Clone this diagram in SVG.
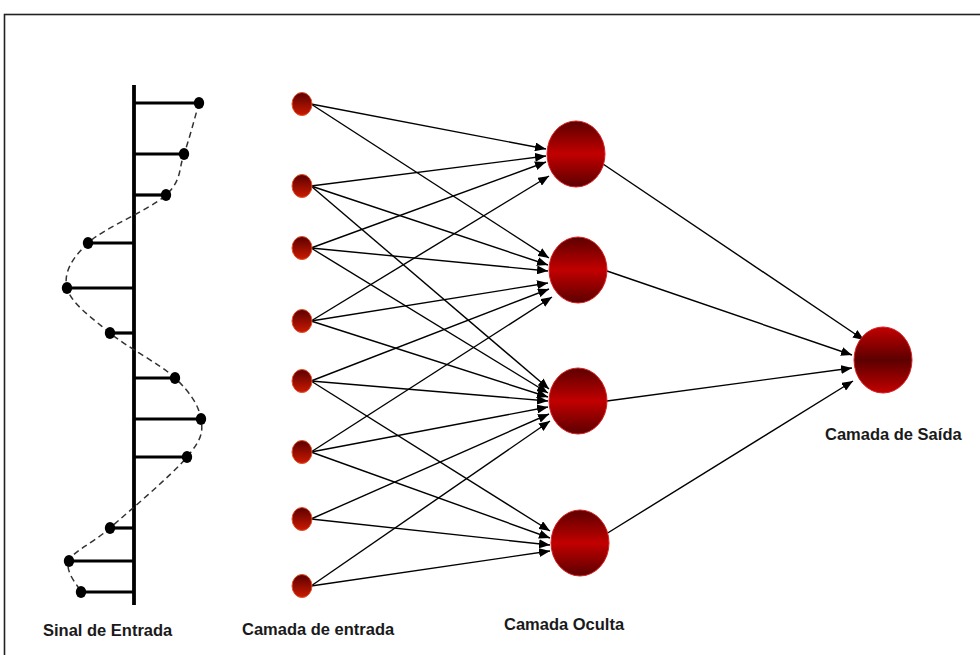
<svg xmlns="http://www.w3.org/2000/svg" width="980" height="655" viewBox="0 0 980 655">
<defs>
<linearGradient id="gIn" x1="0" y1="0" x2="0" y2="1">
<stop offset="0" stop-color="#5a0000"/>
<stop offset="1" stop-color="#cc1a00"/>
</linearGradient>
<linearGradient id="gHid" x1="0" y1="0" x2="0" y2="1">
<stop offset="0" stop-color="#5c0000"/>
<stop offset="0.5" stop-color="#c20000"/>
<stop offset="1" stop-color="#5c0000"/>
</linearGradient>
<linearGradient id="gOut" x1="0" y1="0" x2="0" y2="1">
<stop offset="0" stop-color="#c20000"/>
<stop offset="0.5" stop-color="#5c0000"/>
<stop offset="1" stop-color="#c20000"/>
</linearGradient>
<marker id="arr" viewBox="0 0 11 9" refX="11" refY="4.5" markerWidth="11" markerHeight="9" markerUnits="userSpaceOnUse" orient="auto">
<path d="M0,0 L11,4.5 L0,9 z" fill="#000"/>
</marker>
</defs>
<style>
.in{fill:url(#gIn);stroke:#e2502a;stroke-width:1}
.hid{fill:url(#gHid);stroke:#d82020;stroke-width:1}
.out{fill:url(#gOut);stroke:#d82020;stroke-width:1}
.c line{stroke:#000;stroke-width:1.4;marker-end:url(#arr)}
.stem{stroke:#000;stroke-width:3.2}
.dot{fill:#000}
.lbl{font-family:"Liberation Sans",Arial,sans-serif;font-size:16.5px;font-weight:bold;fill:#1a1a1a}
</style>
<rect x="4.5" y="14.5" width="990" height="660" fill="none" stroke="#222" stroke-width="1.6"/>

<g id="signal">
<line x1="134" y1="85" x2="134" y2="605" stroke="#000" stroke-width="3.8"/>
<line class="stem" x1="134" y1="103" x2="199" y2="103"/>
<line class="stem" x1="134" y1="154" x2="184" y2="154"/>
<line class="stem" x1="134" y1="195" x2="166" y2="195"/>
<line class="stem" x1="134" y1="243" x2="88" y2="243"/>
<line class="stem" x1="134" y1="288" x2="67" y2="288"/>
<line class="stem" x1="134" y1="333" x2="110" y2="333"/>
<line class="stem" x1="134" y1="378" x2="175" y2="378"/>
<line class="stem" x1="134" y1="419" x2="201" y2="419"/>
<line class="stem" x1="134" y1="457" x2="187" y2="457"/>
<line class="stem" x1="134" y1="528" x2="110" y2="528" stroke-width="2.4"/>
<line class="stem" x1="134" y1="561" x2="69" y2="561"/>
<line class="stem" x1="134" y1="592" x2="81" y2="592"/>
<path d="M199,103 C196.5,111.5 189.5,138.7 184,154 C178.5,169.3 182,180.2 166,195 C150,209.8 104.5,227.5 88,243 C71.5,258.5 63.3,273 67,288 C70.7,303 92,318 110,333 C128,348 159.8,363.7 175,378 C190.2,392.3 199,405.8 201,419 C203,432.2 202.2,438.8 187,457 C171.8,475.2 129.7,510.7 110,528 C90.3,545.3 73.8,550.3 69,561 C64.2,571.7 79,586.8 81,592" fill="none" stroke="#333" stroke-width="1.5" stroke-dasharray="6 4"/>
<ellipse class="dot" cx="199" cy="103" rx="5.2" ry="6"/>
<ellipse class="dot" cx="184" cy="154" rx="5.2" ry="6"/>
<ellipse class="dot" cx="166" cy="195" rx="5.2" ry="6"/>
<ellipse class="dot" cx="88" cy="243" rx="5.2" ry="6"/>
<ellipse class="dot" cx="67" cy="288" rx="5.2" ry="6"/>
<ellipse class="dot" cx="110" cy="333" rx="5.2" ry="6"/>
<ellipse class="dot" cx="175" cy="378" rx="5.2" ry="6"/>
<ellipse class="dot" cx="201" cy="419" rx="5.2" ry="6"/>
<ellipse class="dot" cx="187" cy="457" rx="5.2" ry="6"/>
<ellipse class="dot" cx="110" cy="528" rx="5.2" ry="6"/>
<ellipse class="dot" cx="69" cy="561" rx="5.2" ry="6"/>
<ellipse class="dot" cx="81" cy="592" rx="5.2" ry="6"/>
</g>

<g id="connectors" class="c">
<line x1="311" y1="104" x2="546" y2="149"/>
<line x1="311" y1="104" x2="549" y2="258"/>
<line x1="311" y1="186" x2="546" y2="156"/>
<line x1="311" y1="186" x2="548" y2="265"/>
<line x1="311" y1="186" x2="549" y2="389"/>
<line x1="311" y1="248" x2="546" y2="162"/>
<line x1="311" y1="248" x2="548" y2="271"/>
<line x1="311" y1="248" x2="548" y2="393"/>
<line x1="311" y1="321" x2="549" y2="176"/>
<line x1="311" y1="321" x2="548" y2="283"/>
<line x1="311" y1="321" x2="548" y2="397"/>
<line x1="311" y1="381" x2="549" y2="289"/>
<line x1="311" y1="381" x2="548" y2="401"/>
<line x1="311" y1="381" x2="550" y2="531"/>
<line x1="311" y1="452" x2="552" y2="297"/>
<line x1="311" y1="452" x2="548" y2="407"/>
<line x1="311" y1="452" x2="550" y2="538"/>
<line x1="311" y1="519" x2="549" y2="414"/>
<line x1="311" y1="519" x2="550" y2="545"/>
<line x1="311" y1="586" x2="550" y2="421"/>
<line x1="311" y1="586" x2="550" y2="551"/>
<line x1="603" y1="164" x2="864" y2="340"/>
<line x1="607" y1="271" x2="852" y2="355"/>
<line x1="607" y1="401" x2="852" y2="368"/>
<line x1="606" y1="534" x2="853" y2="381"/>
</g>

<g id="in1"><ellipse class="in" cx="302" cy="104" rx="10" ry="11.5"/></g>
<g id="in2"><ellipse class="in" cx="302" cy="186" rx="10" ry="11.5"/></g>
<g id="in3"><ellipse class="in" cx="302" cy="248" rx="10" ry="11.5"/></g>
<g id="in4"><ellipse class="in" cx="302" cy="321" rx="10" ry="11.5"/></g>
<g id="in5"><ellipse class="in" cx="302" cy="381" rx="10" ry="11.5"/></g>
<g id="in6"><ellipse class="in" cx="302" cy="452" rx="10" ry="11.5"/></g>
<g id="in7"><ellipse class="in" cx="302" cy="519" rx="10" ry="11.5"/></g>
<g id="in8"><ellipse class="in" cx="302" cy="586" rx="10" ry="11.5"/></g>

<g id="h1"><ellipse class="hid" cx="576" cy="154" rx="29" ry="33"/></g>
<g id="h2"><ellipse class="hid" cx="578" cy="270" rx="29" ry="33"/></g>
<g id="h3"><ellipse class="hid" cx="578" cy="401" rx="29" ry="33"/></g>
<g id="h4"><ellipse class="hid" cx="580" cy="543" rx="29" ry="33"/></g>

<g id="out1"><ellipse class="out" cx="883" cy="360" rx="29" ry="33"/></g>

<g id="labels">
<text class="lbl" x="43" y="636">Sinal de Entrada</text>
<text class="lbl" x="242" y="635">Camada de entrada</text>
<text class="lbl" x="504" y="630">Camada Oculta</text>
<text class="lbl" x="825" y="440">Camada de Saída</text>
</g>
</svg>
